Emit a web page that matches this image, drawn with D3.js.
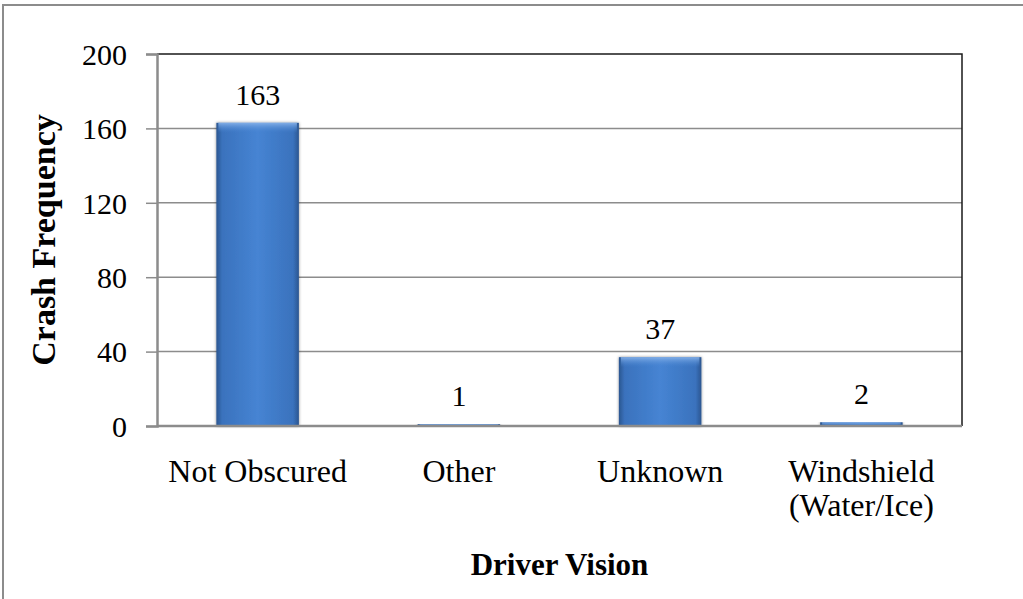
<!DOCTYPE html>
<html>
<head>
<meta charset="utf-8">
<script src="https://cdn.jsdelivr.net/npm/d3@7"></script>
<style>
  html, body { margin: 0; padding: 0; background: #fff; }
  svg { display: block; }
  text { font-family: "Liberation Serif", "Times New Roman", serif; fill: #000; }
</style>
</head>
<body>
<svg id="chart" width="1023" height="599"></svg>
<script>
// Crash counts by driver vision condition
const categories = ["Not Obscured", "Other", "Unknown", "Windshield\n(Water/Ice)"];
const crashCounts = [163, 1, 37, 2];
const yTicks = [0, 40, 80, 120, 160, 200];

const W = 1023, H = 599;
const plot = { left: 157, right: 962, top: 54, bottom: 426 };

const svg = d3.select("#chart");

// Bar fill: darker side edges, brighter middle
const defs = svg.append("defs");
const grad = defs.append("linearGradient").attr("id", "barFill")
  .attr("x1", "0").attr("x2", "1").attr("y1", "0").attr("y2", "0");
[[0, "#2b5690"], [0.07, "#3a72bd"], [0.5, "#4684d3"], [0.93, "#3a72bd"], [1, "#2b5690"]]
  .forEach(([o, c]) => grad.append("stop").attr("offset", o).attr("stop-color", c));
const topGrad = defs.append("linearGradient").attr("id", "barTop")
  .attr("x1", "0").attr("x2", "0").attr("y1", "0").attr("y2", "1");
[[0, "#8ab4ea", 0.9], [1, "#4684d3", 0]]
  .forEach(([o, c, a]) => topGrad.append("stop").attr("offset", o).attr("stop-color", c).attr("stop-opacity", a));
const shadow = defs.append("filter").attr("id", "barShadow")
  .attr("x", "-20%").attr("y", "-5%").attr("width", "140%").attr("height", "110%");
shadow.append("feDropShadow").attr("dx", 0).attr("dy", 0).attr("stdDeviation", 1.6)
  .attr("flood-color", "#000").attr("flood-opacity", 0.45);

// Outer chart frame
svg.append("rect")
  .attr("x", 3).attr("y", 5).attr("width", W + 20).attr("height", H + 20)
  .attr("fill", "none").attr("stroke", "#8c8c8c").attr("stroke-width", 2);

const x = d3.scaleBand().domain(categories).range([plot.left, plot.right]).paddingInner(0.59).paddingOuter(0.295);
const y = d3.scaleLinear().domain([0, 200]).range([plot.bottom, plot.top]);

// Gridlines
svg.append("g").selectAll("line").data(yTicks.filter(t => t > 0 && t < 200)).join("line")
  .attr("x1", plot.left).attr("x2", plot.right)
  .attr("y1", d => y(d)).attr("y2", d => y(d))
  .attr("stroke", "#8c8c8c").attr("stroke-width", 1.5);

// Plot area border (top and right)
svg.append("path")
  .attr("d", `M${plot.left},${y(200)}H${plot.right}V${plot.bottom}`)
  .attr("fill", "none").attr("stroke", "#1a1a1a").attr("stroke-width", 1.5);

// Y axis
const yAxis = svg.append("g")
  .attr("transform", `translate(${plot.left},0)`)
  .call(d3.axisLeft(y).tickValues(yTicks).tickSize(11).tickPadding(19).tickFormat(d3.format("d")));
yAxis.select(".domain").attr("stroke", "#8c8c8c").attr("stroke-width", 2.5);
yAxis.selectAll(".tick line").attr("stroke", "#8c8c8c").attr("stroke-width", 1.5);
yAxis.selectAll(".tick text")
  .attr("font-family", "Liberation Serif, Times New Roman, serif")
  .attr("font-size", 30).attr("fill", "#000").attr("dy", "0.34em");

// Bars
const bars = svg.append("g").selectAll("g").data(crashCounts).join("g");
bars.append("rect")
  .attr("x", (d, i) => x(categories[i]))
  .attr("y", d => y(d))
  .attr("width", x.bandwidth())
  .attr("height", d => plot.bottom - y(d))
  .attr("fill", "url(#barFill)")
  .attr("filter", "url(#barShadow)");
bars.append("rect")
  .attr("x", (d, i) => x(categories[i]) + 2)
  .attr("y", d => y(d))
  .attr("width", x.bandwidth() - 4)
  .attr("height", d => Math.min(10, plot.bottom - y(d)))
  .attr("fill", "url(#barTop)");

// Baseline axis
svg.append("line")
  .attr("x1", plot.left).attr("x2", plot.right)
  .attr("y1", plot.bottom).attr("y2", plot.bottom)
  .attr("stroke", "#8c8c8c").attr("stroke-width", 2.5);

// Value labels
svg.append("g").selectAll("text").data(crashCounts).join("text")
  .attr("x", (d, i) => x(categories[i]) + x.bandwidth() / 2)
  .attr("y", d => y(d) - 18)
  .attr("text-anchor", "middle")
  .attr("font-size", 30)
  .text(d => d);

// Category labels
const catLabels = svg.append("g").selectAll("text").data(categories).join("text")
  .attr("x", d => x(d) + x.bandwidth() / 2)
  .attr("y", 482)
  .attr("text-anchor", "middle")
  .attr("font-size", 32);
catLabels.each(function (d) {
  const t = d3.select(this);
  d.split("\n").forEach((line, k) => {
    t.append("tspan").attr("x", t.attr("x")).attr("dy", k === 0 ? 0 : 34).text(line);
  });
});

// Axis titles
svg.append("text")
  .attr("x", (plot.left + plot.right) / 2).attr("y", 575)
  .attr("text-anchor", "middle").attr("font-size", 31).attr("font-weight", "bold")
  .text("Driver Vision");
svg.append("text")
  .attr("transform", `translate(55,${(plot.top + plot.bottom) / 2}) rotate(-90)`)
  .attr("text-anchor", "middle").attr("font-size", 34).attr("font-weight", "bold")
  .text("Crash Frequency");
</script>
</body>
</html>
